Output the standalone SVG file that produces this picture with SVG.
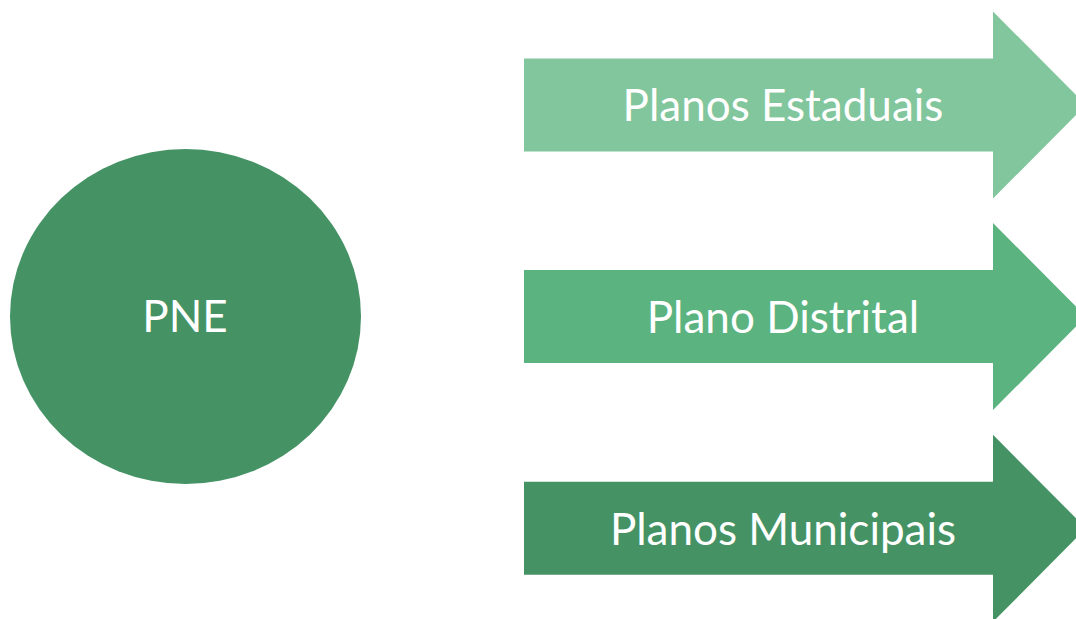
<svg xmlns="http://www.w3.org/2000/svg" width="1076" height="619" viewBox="0 0 1076 619">
  <style>
    .label { font-family: "Lato", "Open Sans", "Liberation Sans", sans-serif; font-size: 44px; fill: #ffffff; text-anchor: middle; }
    .c1 { fill: #82c69d; }
    .c2 { fill: #5bb380; }
    .c3 { fill: #459365; }
  </style>
  <defs>
    <!-- block arrow: body 469 wide, 93 tall; 45-degree head 187 tall -->
    <path id="blockArrow" d="M0,-46.5 H469 V-93.5 L562,0 L469,93.5 V46.5 H0 Z"/>
  </defs>

  <g id="pne">
    <ellipse cx="185.5" cy="316.5" rx="175.5" ry="167.5" class="c3"/>
    <text class="label" x="185" y="332">PNE</text>
  </g>

  <g id="estaduais">
    <use href="#blockArrow" x="524" y="105" class="c1"/>
    <text class="label" x="783" y="121">Planos Estaduais</text>
  </g>

  <g id="distrital">
    <use href="#blockArrow" x="524" y="316.5" class="c2"/>
    <text class="label" x="783" y="333">Plano Distrital</text>
  </g>

  <g id="municipais">
    <use href="#blockArrow" x="524" y="528.3" class="c3"/>
    <text class="label" x="783" y="545">Planos Municipais</text>
  </g>
</svg>
